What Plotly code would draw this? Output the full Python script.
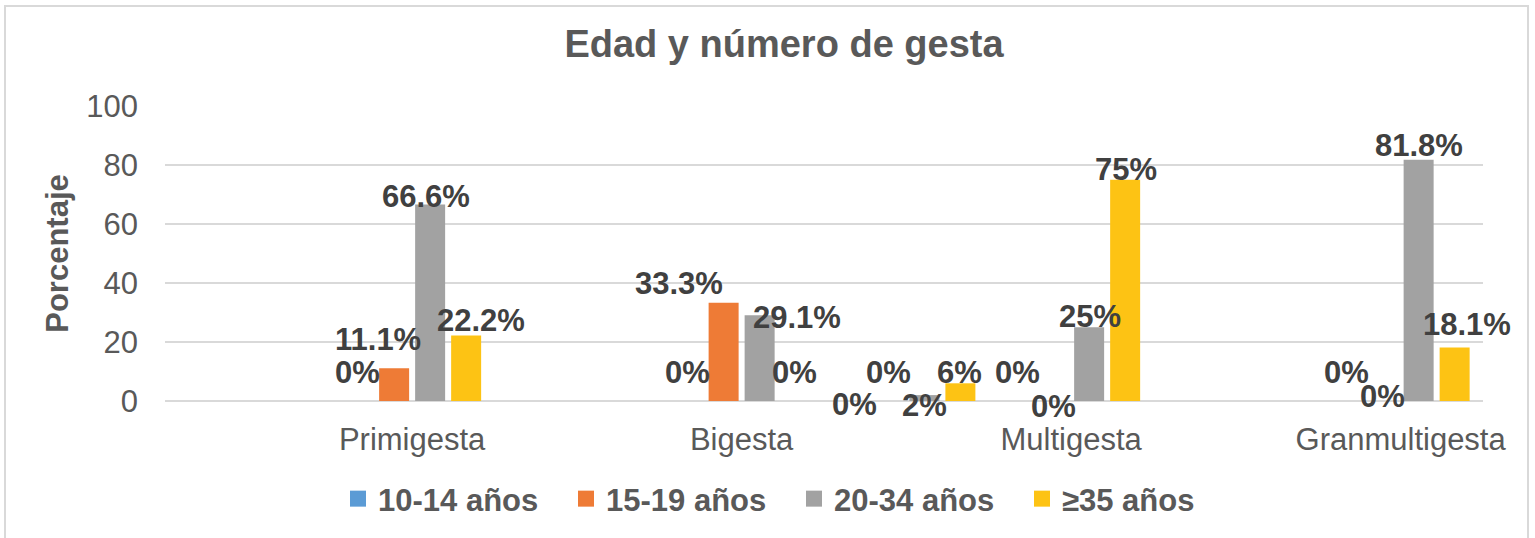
import plotly.graph_objects as go

# ---------------- data ----------------
categories = ["", "Primigesta", "", "Bigesta", "", "Multigesta", "", "Granmultigesta"]
series_names = ["10-14 años", "15-19 años", "20-34 años", "≥35 años"]
s_10_14 = [None, 0, None, 0, 0, 0, None, 0]
s_15_19 = [None, 11.1, None, 33.3, 0, 0, None, 0]
s_20_34 = [None, 66.6, None, 29.1, 2, 25, None, 81.8]
s_35 = [None, 22.2, None, 0, 6, 75, None, 18.1]
y_ticks = [0, 20, 40, 60, 80, 100]

# ---------------- styling / positions ----------------
W, H = 1535, 538
ML, MR, MT, MB = 165, 52, 106, 137
colors = ["#5B9BD5", "#EE7B36", "#A2A2A2", "#FDC314"]
FONT = "Arial, 'Liberation Sans', sans-serif"
BARGAP = 0.1257
GROUPGAP = 0.1667
# manual label offsets (px) from bar-top centre: (dx, dy), dy positive = up
label_offsets = [
    [None, (-0.7, 28.5), None, (0, 28.5), (2.5, -3.5), (0.5, 28.5), None, (0, 28.5)],
    [None, (-15.7, 28.3), None, (-45, 19.3), (0, 28.5), (0.5, -5.0), None, (0, 5)],
    [None, (-4.2, 8.2), None, (37.5, -2.8), (0, -10.4), (0.5, 11), None, (0, 13.7)],
    [None, (14.8, 15.5), None, (-1, 28.5), (-0.5, 10.8), (1, 10.5), None, (12.5, 23.6)],
]

all_series = [s_10_14, s_15_19, s_20_34, s_35]
xpos = list(range(len(categories)))

fig = go.Figure()
for name, vals, col in zip(series_names, all_series, colors):
    fig.add_trace(go.Bar(x=xpos, y=vals, name=name, marker=dict(color=col, line=dict(width=0)),
                         showlegend=False, hoverinfo="skip"))
# legend entries with bigger square symbols
for name, col in zip(series_names, colors):
    fig.add_trace(go.Scatter(x=[None], y=[None], mode="markers", name="<b>" + name + "</b>",
                             marker=dict(symbol="square", size=17, color=col)))

slot = (1 - BARGAP) / len(all_series)
annotations = []
for j, (vals, offs) in enumerate(zip(all_series, label_offsets)):
    for i, v in enumerate(vals):
        if v is None:
            continue
        dx, dy = offs[i]
        annotations.append(dict(
            x=i + (j - (len(all_series) - 1) / 2) * slot, y=v, xref="x", yref="y",
            text=f"<b>{v:g}%</b>", showarrow=False, xanchor="center", yanchor="middle",
            xshift=dx, yshift=dy, font=dict(family=FONT, size=31, color="#404040")))

pw = W - ML - MR
ph = H - MT - MB
def px_x(p):
    return (p - ML) / pw
def px_y(p):
    return (H - MB - p) / ph

fig.update_layout(
    width=W, height=H,
    margin=dict(l=ML, r=MR, t=MT, b=MB, pad=0),
    paper_bgcolor="white", plot_bgcolor="white",
    barmode="group", bargap=BARGAP, bargroupgap=GROUPGAP,
    font=dict(family=FONT, color="#595959"),
    title=dict(text="<b>Edad y número de gesta</b>", x=784 / W, xref="container", xanchor="center",
               y=1 - 44 / H, yref="container", yanchor="middle",
               font=dict(family=FONT, size=38, color="#595959")),
    xaxis=dict(range=[-0.5, len(categories) - 0.5], tickmode="array", tickvals=xpos,
               ticktext=categories, showgrid=False, zeroline=False, showline=False,
               ticks="", tickfont=dict(family=FONT, size=31, color="#595959"),
               ticklabelstandoff=17, fixedrange=True),
    yaxis=dict(range=[0, 100], tickmode="array", tickvals=y_ticks, showgrid=True,
               gridcolor="#D9D9D9", gridwidth=1.5, zeroline=True, zerolinecolor="#D9D9D9",
               zerolinewidth=1.5, showline=False, ticks="",
               tickfont=dict(family=FONT, size=31, color="#595959"), ticklabelstandoff=26,
               title=dict(text="<b>Porcentaje</b>", font=dict(family=FONT, size=31, color="#595959"),
                          standoff=8),
               fixedrange=True),
    legend=dict(orientation="h", xref="container", yref="container", x=338 / W, xanchor="left",
                y=1 - 499 / H, yanchor="middle", entrywidth=183, entrywidthmode="pixels",
                font=dict(family=FONT, size=31, color="#595959"), bgcolor="rgba(0,0,0,0)",
                itemclick=False, itemdoubleclick=False),
    annotations=annotations,
    shapes=[dict(type="rect", xref="paper", yref="paper", x0=px_x(5), x1=px_x(1528),
                 y0=px_y(H + 10), y1=px_y(6), line=dict(color="#D9D9D9", width=2),
                 fillcolor="rgba(0,0,0,0)", layer="below")],
)

fig.write_html("out.html", config={"displayModeBar": False},
               post_script="document.body.style.margin='0';document.body.style.overflow='hidden';")
